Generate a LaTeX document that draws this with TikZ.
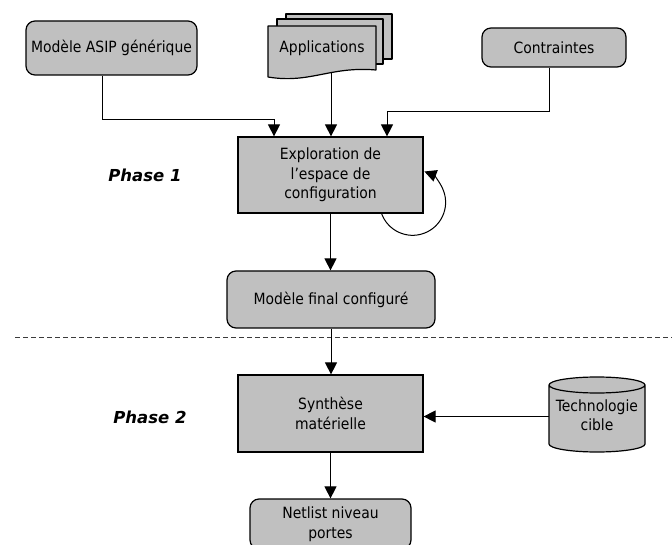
\documentclass[tikz,border=0pt]{standalone}
\usepackage{fontspec}
\setmainfont{DejaVu Sans Condensed}
\newfontfamily\phasefont{DejaVu Sans}
\usetikzlibrary{arrows.meta}
\definecolor{boxfill}{RGB}{192,192,192}
\definecolor{sepgray}{RGB}{60,60,60}
\begin{document}
\begin{tikzpicture}[x=1pt,y=-1pt,
  every node/.style={font=\fontsize{15.5}{19.5}\selectfont},
  proc/.style={draw, line width=1.2pt, fill=boxfill, align=center, inner sep=0pt},
  term/.style={proc, rounded corners=9pt},
  page/.style={draw, line width=1.2pt, fill=boxfill, line join=round},
  flow/.style={line width=1pt, -{Triangle[length=12pt,width=12pt]}},
  phase/.style={font=\phasefont\bfseries\itshape\fontsize{16.5}{20}\selectfont, anchor=base},
  separator/.style={draw=sepgray, line width=1pt, dash pattern=on 5pt off 3pt}
]
\useasboundingbox (0,0) rectangle (672,545);

% inputs
\node[term, minimum width=171, minimum height=54] (asip) at (111.5,48) {Modèle ASIP générique};
\node[term, minimum width=144, minimum height=39] (cons) at (554,47.5) {Contraintes};

% stacked documents
\draw[page] (286,14) rectangle (392,59);
\draw[page] (277,19) rectangle (383,64);
\draw[page] (268,77) -- (268,26) -- (376,26) -- (376,70)
  .. controls (330,66) and (310,84) .. (268,77) -- cycle;
\node (app) at (322,48) {Applications};
\coordinate (appout) at (331,72);

% phase 1
\node[proc, minimum width=185, minimum height=76] (explo) at (330.5,175)
  {Exploration de\\l’espace de\\configuration};
\node[term, minimum width=208, minimum height=57] (final) at (331,299.5) {Modèle final configuré};

% phase 2
\node[proc, minimum width=185, minimum height=77] (synth) at (330.5,413.5)
  {Synthèse\\matérielle};
\node[term, minimum width=161, minimum height=50] (net) at (330.5,524)
  {Netlist niveau\\portes};

% target technology database
\fill[boxfill] (549,385) -- (549,444) arc[start angle=180,end angle=0,x radius=48,y radius=8]
  -- (645,385) arc[start angle=0,end angle=-180,x radius=48,y radius=8] -- cycle;
\draw[line width=1.2pt] (549,385) -- (549,444) arc[start angle=180,end angle=0,x radius=48,y radius=8]
  -- (645,385) arc[start angle=0,end angle=-180,x radius=48,y radius=8]
  arc[start angle=180,end angle=0,x radius=48,y radius=8];
\node[minimum width=96, minimum height=75, inner sep=0pt, align=center] (tech) at (597,415)
  {Technologie\\cible};

% phase labels and separator
\node[phase] (ph1) at (145,182) {Phase 1};
\node[phase] (ph2) at (150,423) {Phase 2};
\coordinate (sepL) at (15,337);
\coordinate (sepR) at (672,337);
\draw[separator] (sepL) -- (sepR);

% connectors
\draw[flow] ([xshift=-9.5pt]asip.south) -- ++(0,44) -| ([xshift=-56.5pt]explo.north);
\draw[flow] (appout) -- (appout |- explo.north);
\draw[flow] ([xshift=-5pt]cons.south) -- ++(0,44) -| ([xshift=56.5pt]explo.north);
\draw[flow] ([xshift=-42pt]explo.south east) arc[start angle=160,end angle=-69,radius=33];
\draw[flow] (explo.south) -- (explo.south |- final.north);
\draw[flow] (final.south) -- (final.south |- synth.north);
\draw[flow] ([yshift=-1.5pt]tech.west) -- ([yshift=-1.5pt]tech.west -| synth.east);
\draw[flow] (synth.south) -- (net.north);
\end{tikzpicture}
\end{document}
